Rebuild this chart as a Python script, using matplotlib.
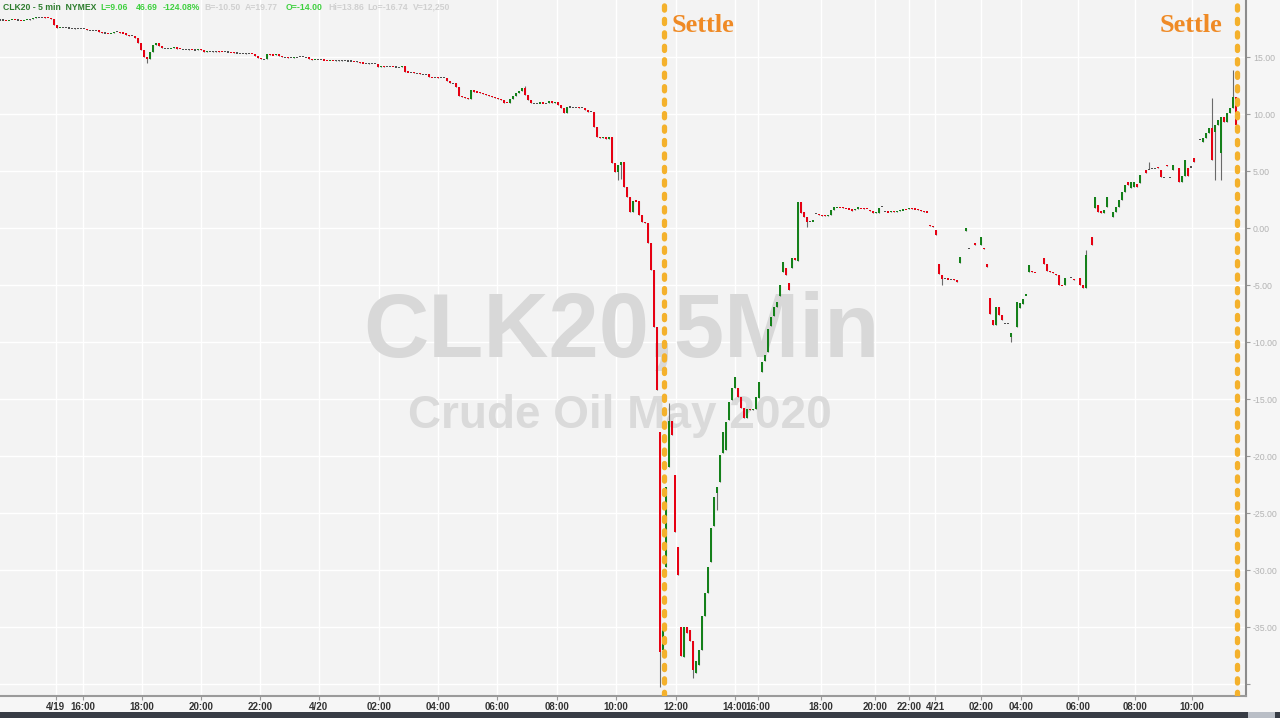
import matplotlib
matplotlib.use("Agg")
import matplotlib.pyplot as plt
from matplotlib.patches import Rectangle
import numpy as np

W, H = 1280, 718

# 5-min closes from the left edge up to the crash, one per bar slot (open = previous close)
early_close = [
    18.25, 18.25, 18.22, 18.25, 18.28, 18.25, 18.25, 18.22, 18.25, 18.28, 18.30,
    18.46, 18.50, 18.48, 18.50, 18.46, 18.40, 18.29, 17.85, 17.55,
    17.58, 17.56, 17.55, 17.54, 17.52, 17.50, 17.50, 17.48, 17.46,
    17.37, 17.35, 17.36, 17.34, 17.20, 17.10, 17.10, 17.08, 17.10,
    17.22, 17.22, 17.12, 17.08, 16.90, 16.86, 16.86,
    16.67, 16.23, 15.60, 15.00, 14.80, 15.44, 16.05, 16.20, 15.95, 15.78,
    15.78, 15.76, 15.80, 15.85, 15.72, 15.70, 15.68, 15.66, 15.64, 15.62, 15.60,
    15.66, 15.62, 15.45, 15.50, 15.50, 15.48, 15.50, 15.47, 15.45, 15.45, 15.43, 15.40,
    15.35, 15.35, 15.33, 15.32, 15.30, 15.30, 15.28, 15.10, 14.95, 14.82, 14.80,
    15.25, 15.20, 15.15, 15.25, 15.10, 15.00, 14.98, 14.95, 14.93,
    14.98, 15.00, 15.02, 15.00, 14.98, 14.82, 14.72, 14.78, 14.76,
    14.75, 14.72, 14.70, 14.72, 14.70, 14.68, 14.70, 14.68, 14.66, 14.65, 14.65, 14.62, 14.60,
    14.50, 14.45, 14.44, 14.42, 14.42, 14.40,
    14.15, 14.18, 14.15, 14.16, 14.14, 14.12, 14.12, 14.10,
    14.25, 13.70, 13.66, 13.66, 13.60, 13.58, 13.50, 13.50, 13.48,
    13.25, 13.22, 13.22, 13.20, 13.20, 13.18,
    12.90, 12.70, 12.68, 12.40, 11.60, 11.45, 11.40, 11.35, 12.10, 11.95, 11.90,
    11.85, 11.78, 11.70, 11.62, 11.52, 11.40, 11.30, 11.20, 11.00, 10.96,
    11.30, 11.60, 11.85, 12.05, 12.25, 11.70, 11.20, 10.95,
    10.96, 10.95, 10.98, 10.95, 10.96, 11.10, 10.95, 11.05, 10.80, 10.55,
    10.10, 10.62, 10.60, 10.58, 10.60, 10.56, 10.55, 10.35, 10.20, 10.18,
    8.90, 8.00, 7.90, 7.95, 7.85, 7.95, 5.70, 4.90, 5.50, 5.75,
    3.60, 2.70, 1.40, 2.40, 2.35, 1.10, 0.50, 0.40, -1.30, -3.70, -8.70, -14.20,
]

# bars from the settlement crash on; slots skipped where no trades printed
late_slot = [
    220, 221, 222, 223, 224, 225, 226, 227, 228, 229, 230, 231, 232, 233, 234, 235, 236, 237, 238, 239,
    240, 241, 242, 243, 244, 245, 246, 247, 248, 249, 250, 251, 252, 253, 254, 255, 256, 257, 258, 259,
    260, 261, 262, 263, 264, 265, 266, 267, 268, 269, 270, 271, 272, 273, 274, 275, 276, 277, 278, 279,
    280, 281, 282, 283, 284, 285, 286, 287, 288, 289, 290, 291, 292, 293, 294, 295, 296, 297, 298, 299,
    300, 301, 302, 303, 304, 305, 306, 307, 308, 309, 310, 311, 312, 313, 314, 315, 316, 317, 318, 319,
    320, 322, 323, 325, 327, 328, 329, 330, 331, 332, 333, 334, 335, 336, 337, 339, 340, 341, 342, 343,
    344, 345, 348, 349, 350, 351, 352, 353, 354, 355, 357, 358, 360, 361, 362, 364, 365, 366, 367, 368,
    369, 371, 372, 373, 374, 375, 376, 377, 378, 379, 380, 382, 383, 384, 385, 386, 387, 388, 389, 390,
    391, 393, 394, 395, 396, 397, 398, 400, 401, 402, 403, 404, 405, 406, 407, 408, 409, 410, 411, 412,
]
late_open = [
    -17.9, -37.0, -29.7, -21.0, -16.9, -21.7, -28.0, -35.0, -37.6, -35.0, -35.3, -36.2, -39.0, -38.3, -37.0, -34.0, -32.0, -29.3, -26.1, -23.2,
    -22.3, -19.7, -19.5, -16.8, -15.1, -14.0, -14.0, -14.8, -15.8, -16.7, -15.9, -15.95, -15.9, -14.9, -12.6, -11.7, -10.9, -8.6, -7.7, -6.9,
    -6.0, -3.9, -3.5, -4.8, -3.5, -2.6, -2.9, 2.3, 1.4, 1.0, 0.6, 0.6, 1.3, 1.2, 1.1, 1.15, 1.05, 1.1, 1.6, 1.8,
    1.85, 1.82, 1.7, 1.68, 1.65, 1.6, 1.65, 1.75, 1.72, 1.7, 1.6, 1.45, 1.35, 1.3, 1.9, 1.45, 1.42, 1.4, 1.45, 1.42,
    1.5, 1.55, 1.6, 1.65, 1.72, 1.68, 1.65, 1.62, 1.45, 1.42, 0.25, 0.15, -0.2, -3.2, -4.1, -4.45, -4.45, -4.5, -4.5, -4.6,
    -3.1, -0.3, -1.8, -1.3, -1.5, -1.75, -3.2, -6.1, -8.1, -8.5, -6.9, -7.6, -8.4, -8.4, -9.6, -8.7, -7.0, -6.7, -5.9, -3.9,
    -3.8, -3.85, -2.6, -3.2, -3.8, -3.9, -4.0, -4.1, -5.05, -5.0, -4.35, -4.5, -4.4, -5.0, -5.3, -0.8, 1.75, 2.0, 1.5, 1.3,
    1.8, 0.96, 1.4, 1.85, 2.45, 3.15, 4.03, 3.5, 3.6, 3.85, 3.95, 5.1, 5.15, 5.25, 5.2, 5.35, 5.1, 4.45, 5.55, 4.45,
    5.1, 5.3, 4.0, 4.6, 5.3, 5.35, 6.15, 7.8, 7.55, 7.9, 8.35, 8.8, 8.4, 9.0, 6.6, 9.7, 9.3, 10.1, 10.5, 11.5,
]
late_close = [
    -37.2, -35.3, -22.7, -16.9, -18.2, -26.7, -30.4, -37.5, -35.0, -35.5, -36.2, -38.8, -38.0, -37.0, -34.0, -32.0, -29.7, -26.3, -23.6, -22.7,
    -19.9, -17.9, -17.0, -15.3, -14.0, -13.1, -14.8, -15.8, -16.7, -15.9, -15.95, -15.9, -14.8, -13.5, -11.75, -11.1, -8.9, -7.8, -6.9, -6.5,
    -5.0, -3.0, -4.1, -5.4, -2.6, -2.8, 2.3, 1.3, 1.0, 0.55, 0.6, 0.62, 1.3, 1.1, 1.05, 1.05, 1.1, 1.6, 1.8, 1.85,
    1.82, 1.75, 1.68, 1.65, 1.45, 1.7, 1.8, 1.72, 1.7, 1.65, 1.45, 1.3, 1.4, 1.75, 1.9, 1.45, 1.4, 1.45, 1.42, 1.45,
    1.55, 1.6, 1.58, 1.72, 1.68, 1.65, 1.62, 1.45, 1.42, 1.4, 0.2, 0.1, -0.65, -4.0, -4.5, -4.45, -4.5, -4.48, -4.6, -4.7,
    -2.5, 0.0, -1.8, -1.5, -0.8, -1.8, -3.4, -7.5, -8.5, -6.9, -7.6, -8.1, -8.4, -8.42, -9.2, -6.5, -6.6, -6.2, -5.85, -3.25,
    -3.85, -3.9, -3.2, -3.8, -3.9, -3.95, -4.1, -5.0, -5.1, -4.4, -4.35, -4.6, -5.0, -5.3, -2.4, -1.5, 2.7, 1.4, 1.3, 1.6,
    2.7, 1.4, 1.85, 2.45, 3.15, 3.8, 3.77, 4.0, 4.05, 3.6, 4.65, 4.8, 5.15, 5.25, 5.2, 5.25, 4.5, 4.45, 5.4, 4.45,
    5.5, 4.0, 4.6, 5.95, 4.6, 5.35, 5.8, 7.8, 7.9, 8.35, 8.8, 5.95, 9.0, 9.5, 9.7, 9.3, 10.1, 10.5, 11.5, 9.06,
]

# shadows that reach beyond the body: slot -> (high, low)
wicks = {
    49: (15.0, 14.5), 175: (12.45, 11.7), 206: (5.5, 4.2), 207: (5.75, 4.3),
    220: (-17.9, -40.3), 223: (-15.35, -21.0), 231: (-36.2, -39.5), 239: (-22.7, -24.7),
    269: (1.0, 0.1), 314: (-4.1, -5.0), 337: (-9.2, -10.0), 362: (-1.9, -5.3),
    383: (5.8, 5.15), 404: (11.4, 5.95), 405: (9.0, 4.2), 407: (9.7, 4.2), 411: (13.86, 10.5),
}

settle_slot = [221.3, 412.3]

x_tick_pos = [18.5, 27.7, 47.3, 67, 86.7, 106.3, 126.3, 146, 165.7, 185.7, 205.2,
              225.2, 245, 252.7, 273.7, 291.8, 303, 311.7, 327, 340.3, 359.3, 378.3, 397.3]
x_tick_lab = ['4/19', '16:00', '18:00', '20:00', '22:00', '4/20', '02:00', '04:00', '06:00',
              '08:00', '10:00', '12:00', '14:00', '16:00', '18:00', '20:00', '22:00', '4/21',
              '02:00', '04:00', '06:00', '08:00', '10:00']
y_ticks = [-40, -35, -30, -25, -20, -15, -10, -5, 0, 5, 10, 15]

header = [
    ("CLK20 - 5 min  NYMEX", '#2e7d2e', 3),
    ("L=9.06", '#3fd03f', 100), ("46.69", '#3fd03f', 136), ("-124.08%", '#3fd03f', 163),
    ("B=-10.50", '#d0d0d0', 204), ("A=19.77", '#d0d0d0', 245),
    ("O=-14.00", '#3fd03f', 286),
    ("Hi=13.86", '#d0d0d0', 328), ("Lo=-16.74", '#d0d0d0', 367), ("V=12,250", '#d0d0d0', 413),
]

GREEN = '#14801a'
RED = '#e60012'
FLAT = '#505050'
WICK = '#6a6a6a'
NARROW = ['Liberation Sans Narrow', 'Liberation Sans']

# assemble OHLC
x = list(range(len(early_close))) + late_slot
opens = [early_close[0]] + early_close[:-1] + late_open
closes = early_close + late_close
x = np.array(x, dtype=float)
o = np.array(opens)
c = np.array(closes)
hi = np.maximum(o, c)
lo = np.minimum(o, c)
for s, (h, l) in wicks.items():
    i = int(np.where(x == s)[0][0])
    hi[i] = max(hi[i], h)
    lo[i] = min(lo[i], l)

diff = c - o
col = np.where(diff > 0.02, GREEN, np.where(diff < -0.02, RED, FLAT))
min_h = 0.1
body_h = np.maximum(np.abs(diff), min_h)
body_b = np.where(np.abs(diff) < min_h, (o + c) / 2 - min_h / 2, np.minimum(o, c))

fig = plt.figure(figsize=(W / 100, H / 100), dpi=100)
fig.patch.set_facecolor('#f6f6f6')
ax = fig.add_axes([0, 22 / H, 1246 / W, 696 / H])
ax.set_facecolor('#f3f3f3')


def fx(px):
    return px / W


def fy(py):
    return 1 - py / H


# watermark
ax.text(fx(621), fy(357), 'CLK20,5Min', transform=fig.transFigure, ha='center', va='baseline',
        fontsize=65, fontweight='bold', family='Liberation Sans', color='#d8d8d8', zorder=1)
ax.text(fx(620), fy(428), 'Crude Oil May 2020', transform=fig.transFigure, ha='center', va='baseline',
        fontsize=33, fontweight='bold', family='Liberation Sans', color='#dadada', zorder=1)

ax.vlines(x, lo, hi, color=WICK, lw=0.8, zorder=3)
ax.bar(x, body_h, bottom=body_b, width=0.8, color=col, linewidth=0, zorder=4)

for s in settle_slot:
    ax.axvline(s, color='#f4b12c', lw=3.8, linestyle=(0, (0.8, 1.75)),
               dash_capstyle='round', zorder=5)

fig.text(fx(672), fy(32), 'Settle', fontsize=19, fontweight='bold', family='Liberation Serif',
         color='#ef8a25', va='baseline', ha='left')
fig.text(fx(1160), fy(32), 'Settle', fontsize=19, fontweight='bold', family='Liberation Serif',
         color='#ef8a25', va='baseline', ha='left')

ax.set_xlim(0, 415.3)
ax.set_ylim(-41.05, 20.0)

ax.set_xticks(x_tick_pos)
ax.set_xticklabels(x_tick_lab)
ax.yaxis.tick_right()
ax.set_yticks(y_ticks)
ax.set_yticklabels(['' if v == -40 else f'{v:.2f}' for v in y_ticks])
ax.tick_params(axis='x', length=3, color='#999999', pad=1.5, labelsize=7, labelcolor='#333333')
ax.tick_params(axis='y', length=3, color='#999999', pad=2, labelsize=6.3, labelcolor='#b3b3b3')
for lab in ax.get_xticklabels():
    lab.set_fontweight('bold')
    lab.set_family(NARROW)
for lab in ax.get_yticklabels():
    lab.set_family('Liberation Sans')

ax.grid(True, color='white', lw=1.0)
ax.set_axisbelow(True)
for side in ['top', 'left']:
    ax.spines[side].set_visible(False)
ax.spines['right'].set_color('#8c8c8c')
ax.spines['right'].set_linewidth(1.5)
ax.spines['bottom'].set_color('#9a9a9a')
ax.spines['bottom'].set_linewidth(1.5)

for txt, colr, px in header:
    fig.text(fx(px), fy(7), txt, fontsize=6.2, fontweight='bold', color=colr,
             family='Liberation Sans', va='center', ha='left')

# bottom scroll strip
fig.patches.append(Rectangle((0, 0), 1, 6 / H, transform=fig.transFigure,
                             facecolor='#373c45', edgecolor='none'))
fig.patches.append(Rectangle((fx(1248), 0), 27 / W, 6 / H, transform=fig.transFigure,
                             facecolor='#b9bec6', edgecolor='none'))

fig.savefig('out.png', dpi=100, facecolor=fig.get_facecolor())
